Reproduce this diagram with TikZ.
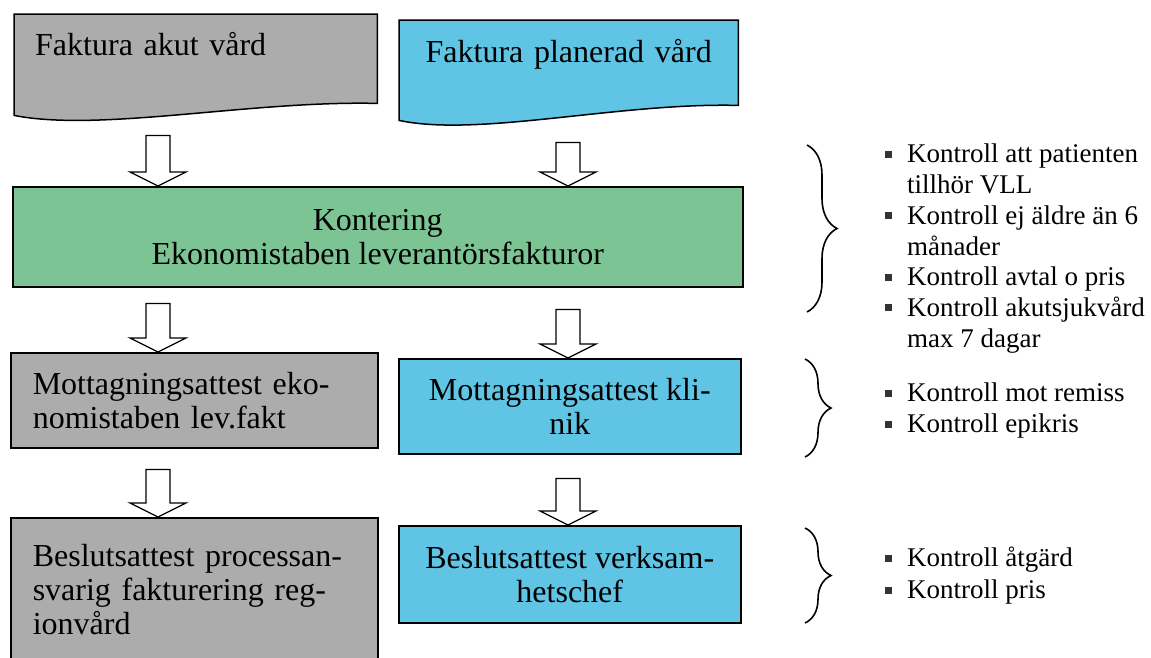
\documentclass[tikz,border=0pt]{standalone}
\usepackage{fontspec}
\setmainfont{Liberation Serif}
\usetikzlibrary{calc, decorations.pathreplacing, backgrounds}
\definecolor{akutgray}{RGB}{172,172,172}
\definecolor{planblue}{RGB}{96,196,228}
\definecolor{kontgreen}{RGB}{124,196,148}
\newcommand{\flowfont}{\fontsize{32}{34}\selectfont}
\newcommand{\listfont}{\fontsize{27}{30.7}\selectfont}
\newcommand{\kbul}{\makebox[27pt][l]{\hspace{5pt}\textcolor{black!80}{\rule[5pt]{7pt}{7pt}}}}
\newcommand{\kind}{\hspace*{27pt}}
\tikzstyle{graydoc} = [rectangle, text width=321pt, inner xsep=21pt, inner ysep=0pt, text height=41pt, text depth=60pt, align=left, font=\flowfont]
\tikzstyle{bluedoc} = [rectangle, text width=297pt, inner xsep=21pt, inner ysep=0pt, text height=42pt, text depth=58pt, align=center, font=\flowfont]
\tikzstyle{docline} = [draw=black, line width=1.5pt]
\tikzstyle{konterbox} = [rectangle, minimum width=730pt, minimum height=100pt, text centered, draw=black, line width=1.5pt, fill=kontgreen, align=center, font=\flowfont]
\tikzstyle{grayproc} = [rectangle, minimum height=95pt, text width=323pt, inner xsep=22pt, draw=black, line width=1.5pt, fill=akutgray, align=left, font=\flowfont]
\tikzstyle{blueproc} = [rectangle, minimum width=342pt, minimum height=95pt, text centered, draw=black, line width=1.5pt, fill=planblue, align=center, font=\flowfont]
\tikzstyle{kontroll} = [inner sep=0pt, align=left, font=\listfont]
\tikzstyle{kbrace} = [decorate, line width=1.6pt, decoration={brace, amplitude=30pt}]
\tikzstyle{blockarrow} = [draw=black, line width=1.3pt, fill=white, to path={let \p1=(\tikztostart), \p2=(\tikztotarget) in (\x1-12pt,\y1) -- (\x1+12pt,\y1) -- (\x1+12pt,\y2+14pt) -- (\x1+28pt,\y2+14pt) -- (\x1,\y2) -- (\x1-28pt,\y2+14pt) -- (\x1-12pt,\y2+14pt) -- cycle}]

\begin{document}
\begin{tikzpicture}[x=1pt, y=-1pt]
	\useasboundingbox (0,0) rectangle (1151,657);
	\clip (0,0) rectangle (1151,657);
	\coordinate (colL) at (158,0);
	\coordinate (colR) at (568,0);

	\node (akut) [graydoc, anchor=north west] at (14,14) {Faktura akut vård};
	\node (planerad) [bluedoc, anchor=north west] at (399,20) {Faktura planerad vård};
	\node (kontering) [konterbox, anchor=north west] at (12,186) {Kontering\\Ekonomistaben leverantörsfakturor};
	\node (mott1) [grayproc, anchor=north west] at (10,352) {Mottagningsattest eko-\\nomistaben lev.fakt};
	\node (mott2) [blueproc, anchor=north west] at (398,358) {Mottagningsattest kli-\\nik};
	\node (beslut1) [grayproc, anchor=north west, minimum height=143pt] at (10,517) {Beslutsattest processan-\\svarig fakturering reg-\\ionvård};
	\node (beslut2) [blueproc, anchor=north west, minimum height=97pt] at (398,525) {Beslutsattest verksam-\\hetschef};

	\begin{scope}[on background layer]
		\draw [docline, fill=akutgray] (akut.south west) -- (akut.north west) -- (akut.north east) -- ($(akut.south east)+(0,-12)$) .. controls ($(akut.south east)+(-127,-15)$) and ($(akut.south west)+(86,17)$) .. (akut.south west) -- cycle;
		\draw [docline, fill=planblue] (planerad.south west) -- (planerad.north west) -- (planerad.north east) -- ($(planerad.south east)+(0,-15)$) .. controls ($(planerad.south east)+(-120,-18)$) and ($(planerad.south west)+(80,17)$) .. (planerad.south west) -- cycle;
	\end{scope}

	\draw [blockarrow] ($(akut.south -| colL)+(0,20)$) to (kontering.north);
	\draw [blockarrow] ($(planerad.south -| colR)+(0,22)$) to (kontering.north);
	\draw [blockarrow] ($(kontering.south -| colL)+(0,16)$) to (mott1.north);
	\draw [blockarrow] ($(kontering.south -| colR)+(0,22)$) to (mott2.north);
	\draw [blockarrow] ($(mott1.south -| colL)+(0,21)$) to (beslut1.north);
	\draw [blockarrow] ($(mott2.south -| colR)+(0,24)$) to (beslut2.north);

	\draw [kbrace] (807,145) -- (807,312);
	\draw [kbrace, decoration={amplitude=26pt}] (805,359) -- (805,457);
	\draw [kbrace, decoration={amplitude=26pt}] (805,528) -- (805,623);

	\node (list1) [kontroll, anchor=north west] at (880,144) {\kbul Kontroll att patienten\\\kind tillhör VLL\\\kbul Kontroll ej äldre än 6\\\kind månader\\\kbul Kontroll avtal o pris\\\kbul Kontroll akutsjukvård\\\kind max 7 dagar};
	\node (list2) [kontroll, anchor=north west] at (880,383) {\kbul Kontroll mot remiss\\\kbul Kontroll epikris};
	\node (list3) [kontroll, anchor=north west, font=\fontsize{27}{32}\selectfont] at (880,547) {\kbul Kontroll åtgärd\\\kbul Kontroll pris};
\end{tikzpicture}
\end{document}
